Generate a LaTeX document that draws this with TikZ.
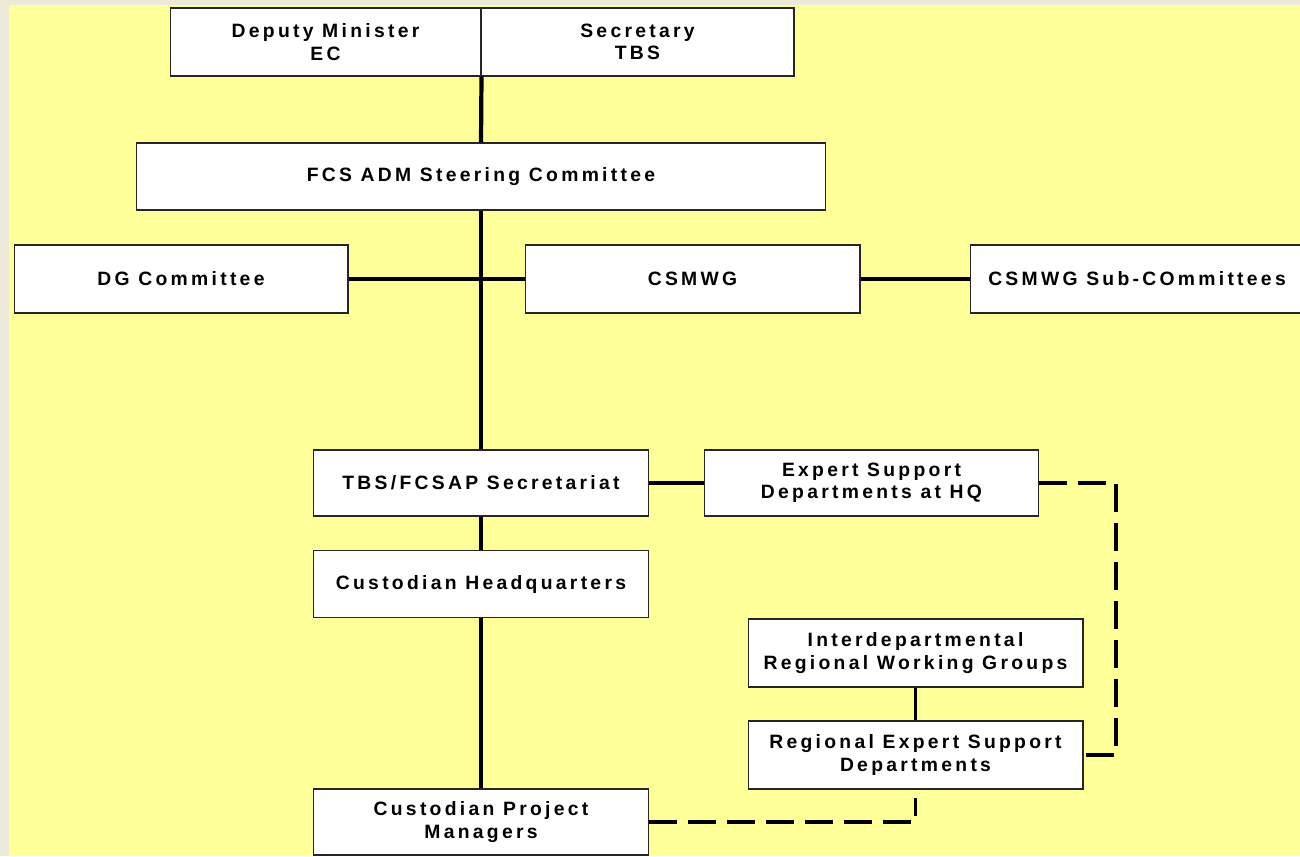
\documentclass[tikz,border=0pt]{standalone}
\usepackage{fontspec}
\usepackage{tikz}
\usetikzlibrary{positioning, calc}
\newfontfamily\boxfont[LetterSpace=17]{Liberation Sans}
\definecolor{xpbeige}{HTML}{ECE9D8}
\definecolor{paleyellow}{HTML}{FFFF99}

\tikzset{
  orgbox/.style={draw=black!85, line width=0.6pt, fill=white, inner sep=0pt,
    minimum width=6.7cm, minimum height=1.34cm, align=center,
    font=\boxfont\bfseries\fontsize{11}{12.8}\selectfont},
  link/.style={line width=2.2pt},
  dashlink/.style={line width=2pt, dash pattern=on 0.56cm off 0.22cm}
}

\begin{document}
\begin{tikzpicture}[x=0.02cm, y=-0.02cm]
  \useasboundingbox (0,0) rectangle (1300,856);
  \fill[xpbeige] (0,0) rectangle (1300,856);
  \fill[paleyellow] (9,5) rectangle (1300,856);

  % top of the structure
  \node[orgbox, minimum width=6.22cm, minimum height=1.36cm] (dm) at (325.5,42) {Deputy Minister\\EC};
  \node[orgbox, minimum width=6.26cm, minimum height=1.36cm] (sec) at (637.5,42) {Secretary\\TBS};
  \node[orgbox, minimum width=13.8cm] (fcs) at (481,176.5) {FCS ADM Steering Committee};

  % committees
  \node[orgbox, minimum width=6.68cm, minimum height=1.36cm] (dg) at (181,279) {DG Committee};
  \node[orgbox, minimum height=1.36cm] (csmwg) at (692.5,279) {CSMWG};
  \node[orgbox, minimum width=6.68cm, minimum height=1.36cm] (sub) at (1137,279) {CSMWG Sub-COmmittees};

  % secretariat and custodians
  \node[orgbox, minimum height=1.32cm] (tbs) at (481,483) {TBS/FCSAP Secretariat};
  \node[orgbox, minimum width=6.68cm, minimum height=1.32cm] (esd) at (871.5,483) {Expert Support\\Departments at HQ};
  \node[orgbox] (chq) at (481,584) {Custodian Headquarters};
  \node[orgbox, minimum height=1.36cm] (idr) at (915.5,653) {Interdepartmental\\Regional Working Groups};
  \node[orgbox, minimum height=1.36cm] (resd) at (915.5,755) {Regional Expert Support\\Departments};
  \node[orgbox, minimum height=1.32cm] (cpm) at (481,822) {Custodian Project\\Managers};

  \draw[link, line width=2.4pt] (dm.south east) -- (fcs.north);
  \draw[link, line width=2.4pt] (fcs.south) -- (tbs.north);
  \draw[link] (dg.east) -- (csmwg.west);
  \draw[link] (csmwg.east) -- (sub.west);
  \draw[link] (tbs.east) -- (esd.west);
  \draw[link] (tbs.south) -- (chq.north);
  \draw[link] (chq.south) -- (cpm.north);
  \draw[link] (idr.south) -- (resd.north);

  \coordinate (hqturn) at (1116,483);
  \draw[dashlink] (esd.east) -- (hqturn) |- (resd.east);
  \draw[dashlink] (cpm.east) -| ([yshift=-0.16cm]resd.south);
\end{tikzpicture}
\end{document}
